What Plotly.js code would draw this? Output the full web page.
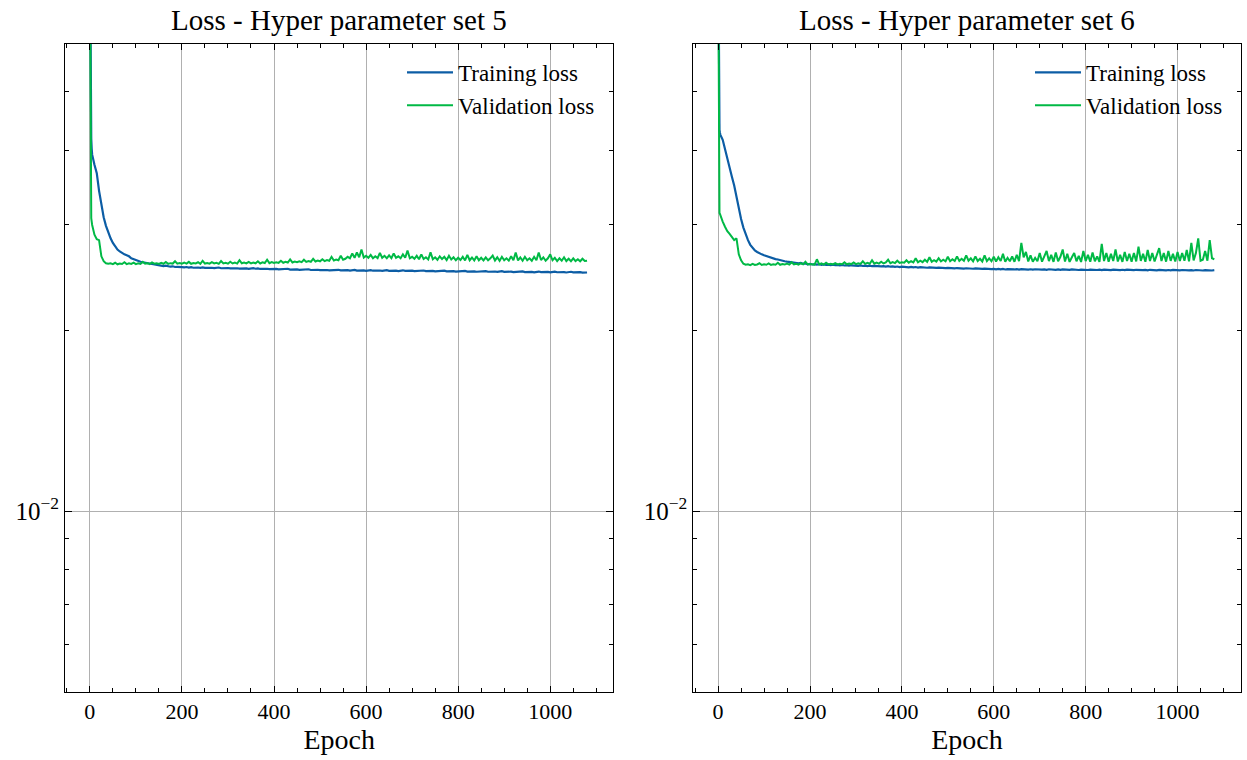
<!DOCTYPE html>
<html>
<head>
<meta charset="utf-8">
<script src="https://cdn.plot.ly/plotly-3.0.1.min.js"></script>
<style>html,body{margin:0;padding:0;background:#fff;}#chart{width:1247px;height:760px;}</style>
</head>
<body>
<div id="chart"></div>
<script>
// ---------- DATA ----------
const epochs = [0,1,2,3,4,
5,10,15,20,25,30,35,40,45,50,
55,60,65,70,75,80,85,90,95,100,
105,110,115,120,125,130,135,140,145,150,
155,160,165,170,175,180,185,190,195,200,
205,210,215,220,225,230,235,240,245,250,
255,260,265,270,275,280,285,290,295,300,
305,310,315,320,325,330,335,340,345,350,
355,360,365,370,375,380,385,390,395,400,
405,410,415,420,425,430,435,440,445,450,
455,460,465,470,475,480,485,490,495,500,
505,510,515,520,525,530,535,540,545,550,
555,560,565,570,575,580,585,590,595,600,
605,610,615,620,625,630,635,640,645,650,
655,660,665,670,675,680,685,690,695,700,
705,710,715,720,725,730,735,740,745,750,
755,760,765,770,775,780,785,790,795,800,
805,810,815,820,825,830,835,840,845,850,
855,860,865,870,875,880,885,890,895,900,
905,910,915,920,925,930,935,940,945,950,
955,960,965,970,975,980,985,990,995,1000,
1005,1010,1015,1020,1025,1030,1035,1040,1045,1050,
1055,1060,1065,1070,1075,1080];

const trainLoss5 = [0.1,0.062,0.0445,0.0418,0.0402,
0.0393,0.0378,0.0366,0.0342,0.0323,0.0309,0.0299,0.0291,0.0285,0.0280,
0.0276,0.0273,0.0271,0.0269,0.0268,0.0267,0.0266,0.0264,0.0263,0.0262,
0.0261,0.02605,0.0260,0.02595,0.0259,0.02585,0.0258,0.02578,0.02572,0.02568,
0.02565,0.02562,0.02566,0.02558,0.02556,0.02560,0.02553,0.02555,0.02550,0.02552,
0.02549,0.02553,0.02547,0.02551,0.02546,0.02550,0.02548,0.02545,0.02549,0.02544,
0.02547,0.02543,0.02546,0.02542,0.02545,0.02548,0.02541,0.02544,0.02540,0.02543,
0.02539,0.02542,0.02538,0.02541,0.02537,0.02540,0.02536,0.02539,0.02535,0.02538,
0.02541,0.02536,0.02539,0.02534,0.02537,0.02533,0.02536,0.02532,0.02535,0.02531,
0.02534,0.02530,0.02533,0.02529,0.02532,0.02536,0.02528,0.02531,0.02527,0.02530,
0.02526,0.02529,0.02525,0.02528,0.02531,0.02524,0.02527,0.02523,0.02526,0.02522,
0.02525,0.02521,0.02524,0.02520,0.02523,0.02519,0.02522,0.02526,0.02520,0.02523,
0.02519,0.02522,0.02518,0.02521,0.02525,0.02518,0.02521,0.02517,0.02520,0.02516,
0.02519,0.02523,0.02517,0.02520,0.02516,0.02519,0.02515,0.02518,0.02522,0.02516,
0.02519,0.02515,0.02518,0.02514,0.02517,0.02521,0.02515,0.02518,0.02514,0.02517,
0.02513,0.02516,0.02512,0.02515,0.02519,0.02513,0.02516,0.02512,0.02515,0.02511,
0.02514,0.02510,0.02513,0.02517,0.02511,0.02514,0.02510,0.02513,0.02509,0.02512,
0.02508,0.02511,0.02515,0.02509,0.02512,0.02508,0.02511,0.02507,0.02510,0.02506,
0.02509,0.02513,0.02507,0.02510,0.02506,0.02509,0.02505,0.02508,0.02512,0.02506,
0.02509,0.02505,0.02508,0.02504,0.02507,0.02503,0.02506,0.02510,0.02504,0.02507,
0.02503,0.02506,0.02502,0.02505,0.02509,0.02503,0.02506,0.02502,0.02505,0.02501,
0.02504,0.02508,0.02502,0.02505,0.02501,0.02504,0.02500,0.02503,0.02507,0.02501,
0.02504,0.02500,0.02503,0.02499,0.02502,0.02500];

const valLoss5 = [0.09,0.05,0.0315,0.0308,0.0304,
0.0300,0.0289,0.0284,0.0283,0.0266,0.0261,0.0259,0.02585,0.0259,0.02582,
0.02595,0.02580,0.02588,0.02583,0.02600,0.02582,0.02590,0.02584,0.02596,0.02581,
0.02589,0.02583,0.02605,0.02585,0.02591,0.02582,0.02598,0.02586,0.02590,0.02583,
0.02594,0.02585,0.02602,0.02584,0.02591,0.02587,0.02610,0.02586,0.02593,0.02585,
0.02596,0.02587,0.02604,0.02585,0.02592,0.02588,0.02600,0.02584,0.02615,0.02587,
0.02593,0.02586,0.02601,0.02588,0.02595,0.02584,0.02612,0.02589,0.02594,0.02586,
0.02605,0.02588,0.02596,0.02587,0.02620,0.02590,0.02597,0.02588,0.02603,0.02589,
0.02598,0.02590,0.02610,0.02588,0.02600,0.02592,0.02625,0.02591,0.02602,0.02593,
0.02600,0.02594,0.02615,0.02595,0.02605,0.02597,0.02628,0.02598,0.02608,0.02600,
0.02610,0.02601,0.02625,0.02603,0.02612,0.02605,0.02635,0.02608,0.02618,0.02610,
0.02630,0.02612,0.02622,0.02615,0.02655,0.02618,0.02628,0.02620,0.02665,0.02625,
0.02635,0.02655,0.02640,0.02690,0.02645,0.02700,0.02650,0.02730,0.02648,0.02665,
0.02645,0.02675,0.02640,0.02660,0.02642,0.02695,0.02645,0.02665,0.02640,0.02670,
0.02642,0.02690,0.02645,0.02660,0.02640,0.02680,0.02645,0.02720,0.02640,0.02655,
0.02635,0.02665,0.02630,0.02680,0.02632,0.02650,0.02628,0.02700,0.02630,0.02650,
0.02625,0.02660,0.02632,0.02655,0.02622,0.02665,0.02628,0.02650,0.02620,0.02645,
0.02622,0.02655,0.02618,0.02675,0.02620,0.02648,0.02618,0.02660,0.02620,0.02645,
0.02618,0.02650,0.02620,0.02640,0.02668,0.02618,0.02650,0.02615,0.02655,0.02620,
0.02640,0.02616,0.02660,0.02620,0.02700,0.02618,0.02648,0.02615,0.02655,0.02620,
0.02640,0.02615,0.02655,0.02620,0.02700,0.02622,0.02650,0.02615,0.02640,0.02680,
0.02620,0.02645,0.02612,0.02640,0.02615,0.02650,0.02612,0.02635,0.02610,0.02640,
0.02612,0.02630,0.02610,0.02635,0.02612,0.02615];

const trainLoss6 = [0.1,0.065,0.0448,0.0432,0.0427,
0.0424,0.0416,0.0401,0.0384,0.0371,0.0361,0.0349,0.0333,0.0319,0.0307,
0.0297,0.0289,0.0283,0.0278,0.0275,0.0272,0.02705,0.0269,0.0268,0.0267,
0.02662,0.0265,0.02645,0.0264,0.02632,0.02628,0.0262,0.02618,0.0261,0.02606,
0.02602,0.02598,0.02600,0.02592,0.02589,0.02594,0.02585,0.02588,0.02580,0.02583,
0.02578,0.02582,0.02576,0.02580,0.02575,0.02579,0.02573,0.02577,0.02572,0.02576,
0.02571,0.02574,0.02569,0.02573,0.02568,0.02572,0.02567,0.02570,0.02566,0.02569,
0.02565,0.02568,0.02563,0.02567,0.02562,0.02566,0.02561,0.02564,0.02560,0.02563,
0.02559,0.02562,0.02557,0.02561,0.02556,0.02559,0.02554,0.02558,0.02553,0.02556,
0.02552,0.02555,0.02550,0.02554,0.02549,0.02553,0.02548,0.02551,0.02547,0.02550,
0.02546,0.02549,0.02545,0.02548,0.02544,0.02547,0.02543,0.02546,0.02542,0.02545,
0.02541,0.02544,0.02540,0.02543,0.02539,0.02542,0.02538,0.02541,0.02537,0.02540,
0.02536,0.02539,0.02535,0.02538,0.02534,0.02537,0.02533,0.02536,0.02532,0.02535,
0.02531,0.02535,0.02530,0.02534,0.02529,0.02533,0.02530,0.02534,0.02529,0.02532,
0.02528,0.02533,0.02529,0.02532,0.02528,0.02531,0.02527,0.02531,0.02528,0.02532,
0.02527,0.02530,0.02526,0.02531,0.02527,0.02530,0.02526,0.02529,0.02525,0.02530,
0.02526,0.02529,0.02525,0.02530,0.02526,0.02529,0.02524,0.02528,0.02525,0.02529,
0.02524,0.02528,0.02525,0.02529,0.02524,0.02527,0.02523,0.02528,0.02524,0.02527,
0.02523,0.02527,0.02524,0.02528,0.02523,0.02526,0.02522,0.02527,0.02523,0.02526,
0.02522,0.02526,0.02523,0.02527,0.02522,0.02525,0.02521,0.02526,0.02522,0.02525,
0.02521,0.02525,0.02522,0.02526,0.02521,0.02524,0.02520,0.02525,0.02521,0.02524,
0.02520,0.02524,0.02521,0.02525,0.02520,0.02523,0.02519,0.02524,0.02520,0.02523,
0.02519,0.02523,0.02520,0.02524,0.02519,0.02522];

const valLoss6 = [0.09,0.05,0.0318,0.0314,0.0313,
0.0311,0.0304,0.0298,0.0293,0.0290,0.0287,0.0283,0.0285,0.0268,0.0262,
0.02585,0.02575,0.02580,0.02572,0.02585,0.02574,0.02578,0.02590,0.02573,0.02580,
0.02575,0.02588,0.02574,0.02580,0.02576,0.02595,0.02575,0.02582,0.02577,0.02586,
0.02576,0.02600,0.02578,0.02584,0.02576,0.02590,0.02579,0.02605,0.02578,0.02583,
0.02580,0.02576,0.02630,0.02578,0.02588,0.02577,0.02595,0.02579,0.02585,0.02578,
0.02592,0.02579,0.02586,0.02580,0.02600,0.02580,0.02588,0.02582,0.02598,0.02581,
0.02590,0.02583,0.02610,0.02584,0.02595,0.02585,0.02620,0.02586,0.02596,0.02587,
0.02605,0.02588,0.02598,0.02625,0.02590,0.02602,0.02592,0.02615,0.02593,0.02600,
0.02595,0.02620,0.02596,0.02610,0.02598,0.02640,0.02600,0.02615,0.02601,0.02625,
0.02603,0.02650,0.02605,0.02620,0.02606,0.02640,0.02608,0.02625,0.02609,0.02655,
0.02610,0.02630,0.02612,0.02660,0.02613,0.02635,0.02615,0.02670,0.02616,0.02640,
0.02610,0.02660,0.02612,0.02635,0.02608,0.02670,0.02612,0.02640,0.02610,0.02655,
0.02608,0.02650,0.02612,0.02685,0.02606,0.02645,0.02610,0.02660,0.02605,0.02675,
0.02612,0.02800,0.02650,0.02705,0.02608,0.02670,0.02605,0.02645,0.02610,0.02695,
0.02606,0.02660,0.02715,0.02612,0.02675,0.02604,0.02700,0.02610,0.02655,0.02730,
0.02608,0.02685,0.02604,0.02650,0.02695,0.02610,0.02665,0.02603,0.02715,0.02612,
0.02675,0.02605,0.02700,0.02610,0.02660,0.02604,0.02790,0.02612,0.02695,0.02606,
0.02685,0.02612,0.02730,0.02608,0.02675,0.02604,0.02705,0.02612,0.02685,0.02606,
0.02695,0.02608,0.02760,0.02614,0.02685,0.02605,0.02725,0.02612,0.02695,0.02608,
0.02675,0.02745,0.02612,0.02695,0.02606,0.02715,0.02614,0.02685,0.02608,0.02705,
0.02612,0.02695,0.02615,0.02725,0.02610,0.02800,0.02618,0.02695,0.02850,0.02615,
0.02625,0.02715,0.02615,0.02830,0.02640,0.02630];

const subplotTitles = ["Loss - Hyper parameter set 5", "Loss - Hyper parameter set 6"];
const seriesNames = ["Training loss", "Validation loss"];
const xTickVals = [0, 200, 400, 600, 800, 1000];
const yMajorVals = [0.01];
const yMajorText = ["10<sup>\u22122</sup>"];
const yMinorVals = [0.005, 0.006, 0.007, 0.008, 0.009, 0.02, 0.03, 0.04, 0.05, 0.06];

// ---------- STYLE ----------
const BLUE = "#0C5DA5", GREEN = "#00B945";
const FONT = "Liberation Serif, Times New Roman, serif";
const W = 1247, H = 760;
const px = (a, b) => [a / W, b / W];
const py = (top, bot) => [1 - bot / H, 1 - top / H];

function xaxisDef(domain, anchor) {
  return {
    domain: domain, anchor: anchor, type: "linear",
    range: [-54, 1137],
    tickmode: "array", tickvals: xTickVals,
    ticks: "inside", ticklen: 6, tickwidth: 1, tickcolor: "#000",
    showline: true, linecolor: "#000", linewidth: 1, mirror: "ticks",
    showgrid: true, gridcolor: "#b0b0b0", gridwidth: 1,
    zeroline: false,
    minor: {dtick: 50, tick0: 0, ticks: "inside", ticklen: 3.5, tickwidth: 1, tickcolor: "#000", showgrid: false},
    tickfont: {family: FONT, size: 22, color: "#000"},
    title: {text: "Epoch", font: {family: FONT, size: 28, color: "#000"}, standoff: 5}
  };
}
function yaxisDef(domain, anchor) {
  return {
    domain: domain, anchor: anchor, type: "log",
    range: [Math.log10(0.005), Math.log10(0.0601)],
    tickmode: "array", tickvals: yMajorVals, ticktext: yMajorText,
    ticks: "inside", ticklen: 7, tickwidth: 1, tickcolor: "#000",
    showline: true, linecolor: "#000", linewidth: 1, mirror: "ticks",
    showgrid: true, gridcolor: "#b0b0b0", gridwidth: 1,
    zeroline: false,
    minor: {tickmode: "array", tickvals: yMinorVals, ticks: "inside", ticklen: 4, tickwidth: 1, tickcolor: "#000", showgrid: false},
    tickfont: {family: FONT, size: 25, color: "#000"}
  };
}

const yDom = py(44, 691.7);
const data = [
  {x: epochs, y: trainLoss5, name: seriesNames[0], mode: "lines", line: {color: BLUE, width: 2.2}, xaxis: "x", yaxis: "y", legend: "legend", legendgroup: "a"},
  {x: epochs, y: valLoss5, name: seriesNames[1], mode: "lines", line: {color: GREEN, width: 2}, xaxis: "x", yaxis: "y", legend: "legend", legendgroup: "b"},
  {x: epochs, y: trainLoss6, name: seriesNames[0], mode: "lines", line: {color: BLUE, width: 2.2}, xaxis: "x2", yaxis: "y2", legend: "legend2", legendgroup: "c"},
  {x: epochs, y: valLoss6, name: seriesNames[1], mode: "lines", line: {color: GREEN, width: 2}, xaxis: "x2", yaxis: "y2", legend: "legend2", legendgroup: "d"}
];

const legendBase = {
  bgcolor: "rgba(0,0,0,0)", borderwidth: 0,
  font: {family: FONT, size: 23, color: "#000"},
  xanchor: "right", yanchor: "top",
  traceorder: "grouped", tracegroupgap: 0, itemwidth: 46
};

const layout = {
  width: W, height: H,
  margin: {l: 0, r: 0, t: 0, b: 0},
  paper_bgcolor: "#fff", plot_bgcolor: "#fff",
  showlegend: true,
  xaxis: xaxisDef(px(65, 613.3), "y"),
  yaxis: yaxisDef(yDom, "x"),
  xaxis2: xaxisDef(px(693.3, 1240.5), "y2"),
  yaxis2: yaxisDef(yDom, "x2"),
  legend: Object.assign({}, legendBase, {x: 600 / W, y: 1 - 51 / H}),
  legend2: Object.assign({}, legendBase, {x: 1228 / W, y: 1 - 51 / H}),
  annotations: [
    {text: subplotTitles[0], xref: "paper", yref: "paper", x: 339.2 / W, y: 1 - 38 / H, xanchor: "center", yanchor: "bottom", showarrow: false, font: {family: FONT, size: 29, color: "#000"}},
    {text: subplotTitles[1], xref: "paper", yref: "paper", x: 966.9 / W, y: 1 - 38 / H, xanchor: "center", yanchor: "bottom", showarrow: false, font: {family: FONT, size: 29, color: "#000"}}
  ]
};

Plotly.newPlot("chart", data, layout, {displayModeBar: false, staticPlot: true});
</script>
</body>
</html>
